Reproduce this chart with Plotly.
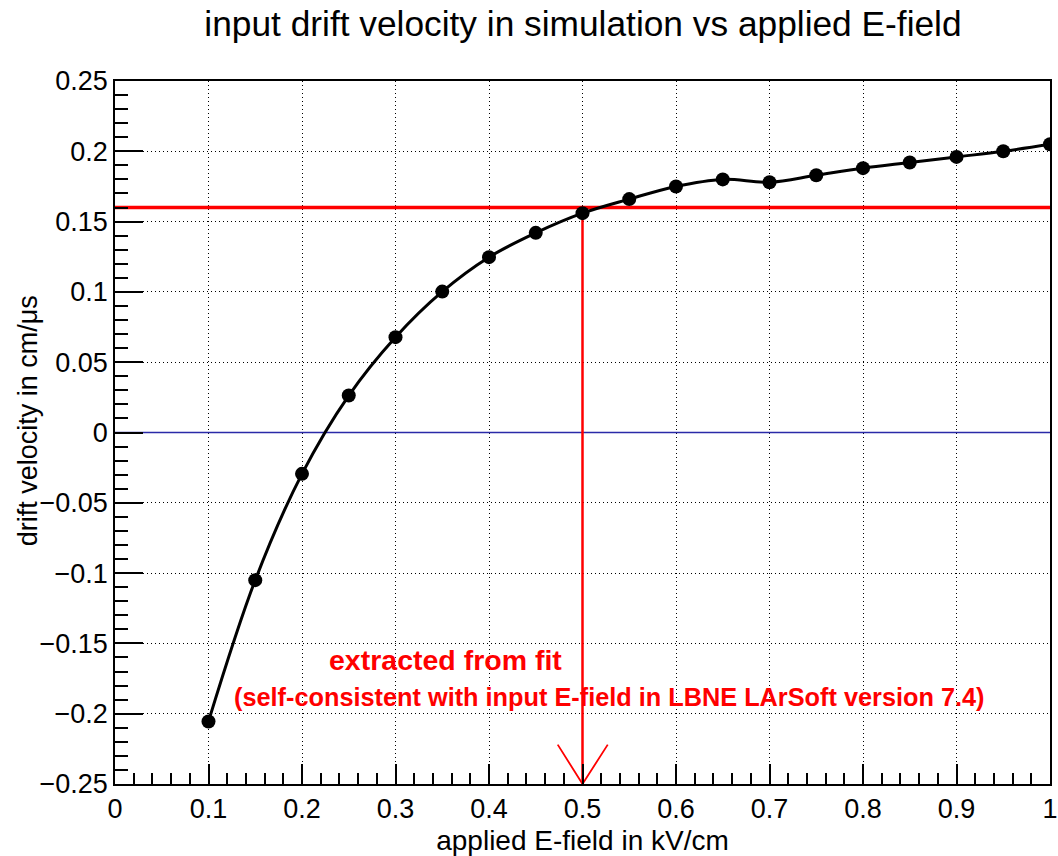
import plotly.graph_objects as go

# ---- data ----
e_field = [0.10, 0.15, 0.20, 0.25, 0.30, 0.35, 0.40, 0.45, 0.50, 0.55,
           0.60, 0.65, 0.70, 0.75, 0.80, 0.85, 0.90, 0.95, 1.00]
drift_velocity = [-0.2055, -0.105, -0.0294, 0.0263, 0.0678, 0.1002, 0.1247, 0.142, 0.156, 0.166,
                  0.175, 0.180, 0.178, 0.183, 0.188, 0.192, 0.196, 0.200, 0.205]

fit_velocity = 0.16      # horizontal red line
fit_efield = 0.5         # vertical red arrow
zero_line_y = 0.0
x_range = [0.0, 1.0]
y_range = [-0.25, 0.25]

arrow_x = [0.4735, 0.5, 0.527]
arrow_y = [-0.222, -0.25, -0.222]

x_tickvals = [0, 0.1, 0.2, 0.3, 0.4, 0.5, 0.6, 0.7, 0.8, 0.9, 1.0]
x_ticktext = ["0", "0.1", "0.2", "0.3", "0.4", "0.5", "0.6", "0.7", "0.8", "0.9", "1"]
y_tickvals = [-0.25, -0.2, -0.15, -0.1, -0.05, 0, 0.05, 0.1, 0.15, 0.2, 0.25]
y_ticktext = ["\u22120.25", "\u22120.2", "\u22120.15", "\u22120.1", "\u22120.05", "0",
              "0.05", "0.1", "0.15", "0.2", "0.25"]

title_text = "input drift velocity in simulation vs applied E-field"
x_title = "applied E-field in kV/cm"
y_title = "drift velocity in cm/\u03bcs"
label1 = "extracted from fit"
label2 = "(self-consistent with input E-field in LBNE LArSoft version 7.4)"
label1_pos = (0.354, -0.1616)
label2_pos = (0.529, -0.188)

FONT = "Liberation Sans, Arial, Helvetica, sans-serif"

fig = go.Figure()

# blue zero line
fig.add_trace(go.Scatter(x=x_range, y=[zero_line_y, zero_line_y], mode="lines",
                         line=dict(color="#2a2aa8", width=1.5), hoverinfo="skip", showlegend=False))
# red horizontal line
fig.add_trace(go.Scatter(x=x_range, y=[fit_velocity, fit_velocity], mode="lines",
                         line=dict(color="#ff0000", width=3.5), hoverinfo="skip", showlegend=False))
# red vertical line
fig.add_trace(go.Scatter(x=[fit_efield, fit_efield], y=[fit_velocity, y_range[0]], mode="lines",
                         line=dict(color="#ff0000", width=2.5), hoverinfo="skip", showlegend=False))
# arrow head
fig.add_trace(go.Scatter(x=arrow_x, y=arrow_y, mode="lines",
                         line=dict(color="#ff0000", width=1.8), hoverinfo="skip", showlegend=False))
# data curve
fig.add_trace(go.Scatter(x=e_field, y=drift_velocity, mode="lines+markers",
                         line=dict(color="black", width=3, shape="spline", smoothing=1.0),
                         marker=dict(color="black", size=14, symbol="circle"),
                         showlegend=False))

axis_common = dict(
    showline=True, mirror=True, linecolor="black", linewidth=1.5,
    showgrid=True, gridcolor="black", gridwidth=1, griddash="1px,3px",
    zeroline=False, ticks="inside", tickcolor="black", tickwidth=1.5,
    tickfont=dict(family=FONT, size=27, color="black"),
    automargin=False,
)

fig.update_xaxes(range=x_range, tickmode="array", tickvals=x_tickvals, ticktext=x_ticktext,
                 ticklen=20,
                 minor=dict(ticks="inside", ticklen=11, dtick=0.02, tick0=0, tickcolor="black",
                            tickwidth=1.5, showgrid=False),
                 title=dict(text=x_title, font=dict(family=FONT, size=28, color="black")),
                 **axis_common)
fig.update_yaxes(range=y_range, tickmode="array", tickvals=y_tickvals, ticktext=y_ticktext,
                 ticklen=28,
                 minor=dict(ticks="inside", ticklen=13, dtick=0.01, tick0=0, tickcolor="black",
                            tickwidth=1.5, showgrid=False),
                 **axis_common)

# y-axis title as rotated annotation (positioned like the reference)
fig.add_annotation(x=-0.093, y=0.516, xref="paper", yref="paper", text=y_title, textangle=-90,
                   showarrow=False, xanchor="center", yanchor="middle",
                   font=dict(family=FONT, size=27, color="black"))

fig.add_annotation(x=label1_pos[0], y=label1_pos[1], text="<b>" + label1 + "</b>", showarrow=False,
                   font=dict(family=FONT, size=28.5, color="#ff0000"), xanchor="center", yanchor="middle")
fig.add_annotation(x=label2_pos[0], y=label2_pos[1], text="<b>" + label2 + "</b>", showarrow=False,
                   font=dict(family=FONT, size=25.3, color="#ff0000"), xanchor="center", yanchor="middle")

fig.update_layout(
    width=1058, height=856,
    margin=dict(l=115, r=8, t=81, b=72),
    paper_bgcolor="white", plot_bgcolor="white",
    title=dict(text=title_text, x=0.551, xanchor="center", y=1 - 24 / 856, yanchor="middle",
               yref="container", font=dict(family=FONT, size=35.3, color="black")),
    showlegend=False,
)

fig.write_html("out.html")
